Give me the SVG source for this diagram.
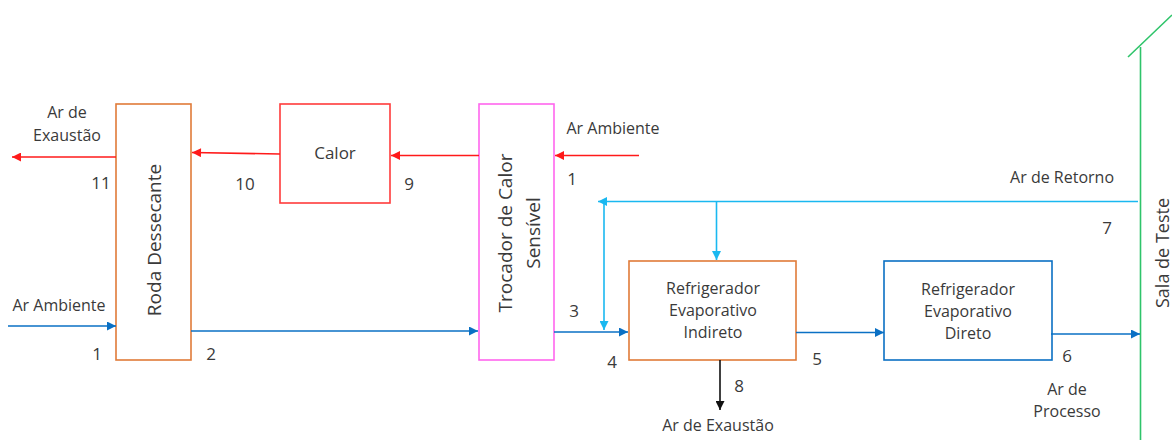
<svg xmlns="http://www.w3.org/2000/svg" width="1172" height="440" viewBox="0 0 1172 440">
  <style>
    text { font-family: "Open Sans", "Noto Sans", "Liberation Sans", sans-serif; fill: #3a3a3a; }
    .lbl { font-size: 16px; }
    .num { font-size: 17px; }
    .box { fill: #ffffff; stroke-width: 1.6; }
    .big { font-size: 19px; }
    .ln { fill: none; stroke-width: 1.6; }
    .red { stroke: #ff1a1a; }
    .blue { stroke: #0a70c4; }
    .cyan { stroke: #1ab8f0; }
    .blk { stroke: #111111; }
  </style>
  <defs>
    <marker id="aRed" viewBox="0 0 10 10" refX="10" refY="5" markerWidth="11" markerHeight="9" markerUnits="userSpaceOnUse" orient="auto">
      <path d="M0,0 L10,5 L0,10 z" fill="#ff1a1a"/>
    </marker>
    <marker id="aBlue" viewBox="0 0 10 10" refX="10" refY="5" markerWidth="11" markerHeight="9" markerUnits="userSpaceOnUse" orient="auto">
      <path d="M0,0 L10,5 L0,10 z" fill="#0a70c4"/>
    </marker>
    <marker id="aCyan" viewBox="0 0 10 10" refX="10" refY="5" markerWidth="11" markerHeight="9" markerUnits="userSpaceOnUse" orient="auto">
      <path d="M0,0 L10,5 L0,10 z" fill="#1ab8f0"/>
    </marker>
    <marker id="aBlk" viewBox="0 0 10 10" refX="10" refY="5" markerWidth="11" markerHeight="9" markerUnits="userSpaceOnUse" orient="auto">
      <path d="M0,0 L10,5 L0,10 z" fill="#111111"/>
    </marker>
  </defs>

  <!-- Sala de Teste wall -->
  <g id="sala">
    <line x1="1140.5" y1="47" x2="1140.5" y2="440" stroke="#2ec46a" stroke-width="1.6"/>
    <line x1="1128" y1="57" x2="1172" y2="15" stroke="#2ec46a" stroke-width="1.6"/>
    <text class="big" transform="translate(1169,253) rotate(-90)" text-anchor="middle" style="font-size:18px">Sala de Teste</text>
  </g>

  <!-- Nodes -->
  <g id="roda">
    <rect class="box" x="116" y="104" width="75" height="256" stroke="#e07b39"/>
    <text class="big" transform="translate(161,240) rotate(-90)" text-anchor="middle">Roda Dessecante</text>
  </g>
  <g id="calor">
    <rect class="box" x="280" y="104" width="110" height="99" stroke="#ff3b3b"/>
    <text class="num" x="335" y="159" text-anchor="middle">Calor</text>
  </g>
  <g id="trocador">
    <rect class="box" x="479" y="104" width="75" height="256" stroke="#ff66ee"/>
    <text class="big" transform="translate(512,233) rotate(-90)" text-anchor="middle">Trocador de Calor</text>
    <text class="big" transform="translate(540,233) rotate(-90)" text-anchor="middle">Sensível</text>
  </g>
  <g id="indireto">
    <rect class="box" x="629" y="261" width="167" height="99" stroke="#e07b39"/>
    <text class="lbl" x="713" y="294" text-anchor="middle">Refrigerador</text>
    <text class="lbl" x="713" y="316" text-anchor="middle">Evaporativo</text>
    <text class="lbl" x="713" y="338" text-anchor="middle">Indireto</text>
  </g>
  <g id="direto">
    <rect class="box" x="884" y="261" width="168" height="99" stroke="#0a70c4"/>
    <text class="lbl" x="968" y="295" text-anchor="middle">Refrigerador</text>
    <text class="lbl" x="968" y="317" text-anchor="middle">Evaporativo</text>
    <text class="lbl" x="968" y="339" text-anchor="middle">Direto</text>
  </g>

  <!-- Connectors -->
  <g id="connectors">
    <line class="ln red" x1="639" y1="155.5" x2="555" y2="155.5" marker-end="url(#aRed)"/>
    <line class="ln red" x1="479" y1="155.5" x2="391" y2="155.5" marker-end="url(#aRed)"/>
    <line class="ln red" x1="280" y1="154" x2="192" y2="152.5" marker-end="url(#aRed)"/>
    <line class="ln red" x1="116" y1="157" x2="12" y2="157" marker-end="url(#aRed)"/>

    <line class="ln blue" x1="8" y1="326" x2="116" y2="326" marker-end="url(#aBlue)"/>
    <line class="ln blue" x1="191" y1="331" x2="478" y2="331" marker-end="url(#aBlue)"/>
    <line class="ln blue" x1="554" y1="332" x2="628" y2="332" marker-end="url(#aBlue)"/>
    <line class="ln blue" x1="796" y1="332.5" x2="884" y2="332.5" marker-end="url(#aBlue)"/>
    <line class="ln blue" x1="1051" y1="334" x2="1140" y2="334" marker-end="url(#aBlue)"/>

    <line class="ln cyan" x1="1138" y1="201.5" x2="598" y2="201.5" marker-end="url(#aCyan)"/>
    <line class="ln cyan" x1="604" y1="201.5" x2="604" y2="330" marker-end="url(#aCyan)"/>
    <line class="ln cyan" x1="716.5" y1="201.5" x2="716.5" y2="260" marker-end="url(#aCyan)"/>

    <line class="ln blk" x1="720" y1="360" x2="720" y2="410" marker-end="url(#aBlk)"/>
  </g>

  <!-- Labels -->
  <g id="labels">
    <text class="lbl" x="67" y="118" text-anchor="middle">Ar de</text>
    <text class="lbl" x="67" y="141" text-anchor="middle">Exaustão</text>
    <text class="num" x="101" y="189" text-anchor="middle">11</text>
    <text class="num" x="245" y="190" text-anchor="middle">10</text>
    <text class="num" x="409" y="190" text-anchor="middle">9</text>
    <text class="lbl" x="613" y="134" text-anchor="middle">Ar Ambiente</text>
    <text class="num" x="572" y="185" text-anchor="middle">1</text>
    <text class="lbl" x="59" y="311" text-anchor="middle">Ar Ambiente</text>
    <text class="num" x="97" y="360" text-anchor="middle">1</text>
    <text class="num" x="211" y="360" text-anchor="middle">2</text>
    <text class="num" x="574" y="317" text-anchor="middle">3</text>
    <text class="num" x="612" y="368" text-anchor="middle">4</text>
    <text class="num" x="817" y="365" text-anchor="middle">5</text>
    <text class="num" x="739" y="392" text-anchor="middle">8</text>
    <text class="lbl" x="718" y="431" text-anchor="middle">Ar de Exaustão</text>
    <text class="num" x="1067" y="362" text-anchor="middle">6</text>
    <text class="lbl" x="1067" y="395" text-anchor="middle">Ar de</text>
    <text class="lbl" x="1067" y="417" text-anchor="middle">Processo</text>
    <text class="lbl" x="1114" y="183" text-anchor="end">Ar de Retorno</text>
    <text class="num" x="1107" y="234" text-anchor="middle">7</text>
  </g>
</svg>
